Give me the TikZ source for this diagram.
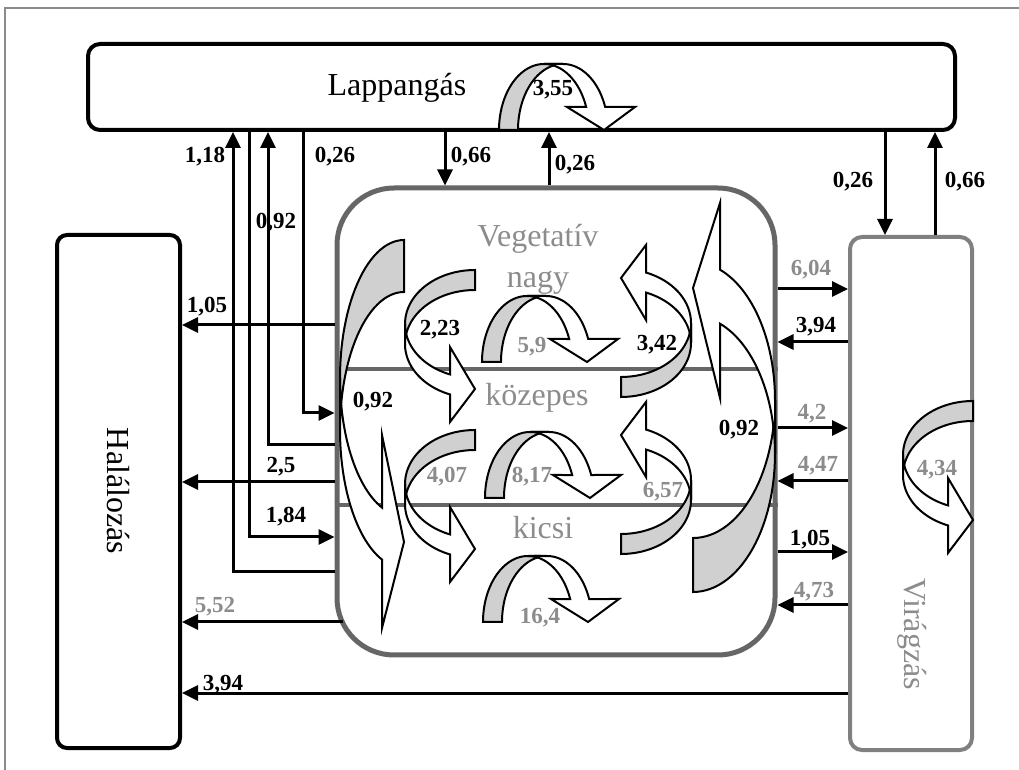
\documentclass[tikz,border=0pt]{standalone}
\usepackage{fontspec}
\setmainfont{Liberation Serif}
\usepackage{xcolor}
\definecolor{colFrame}{HTML}{8A8A8A}
\definecolor{colBox}{HTML}{666666}
\definecolor{colFlower}{HTML}{808080}
\definecolor{colText}{HTML}{8C8C8C}
\definecolor{colBand}{HTML}{D0D0D0}
\usepackage{tikz}
\usetikzlibrary{arrows.meta}
% curved band arrow: left, top, width, band, radius, head inset, head top, tip, head bottom
\newcommand{\bandarrow}[9]{%
  \pgfmathsetmacro{\bandR}{#1+#3}%
  \pgfmathsetmacro{\bandX}{\bandR-#6}%
  \pgfmathsetmacro{\bandA}{acos(-#6/#3)}%
  \pgfmathsetmacro{\bandC}{#2+#5}%
  \pgfmathsetmacro{\bandD}{#2+#4+#5}%
  \draw[back] plot[domain=270:180] ({\bandR+#3*cos(\x)},{\bandC+#5*sin(\x)})
    -- plot[domain=180:270] ({\bandR+#3*cos(\x)},{\bandD+#5*sin(\x)}) -- cycle;
  \draw[front] plot[domain=180:\bandA] ({\bandR+#3*cos(\x)},{\bandC+#5*sin(\x)})
    -- (\bandX,#2+#7) -- (\bandR,#2+#8) -- (\bandX,#2+#9)
    -- plot[domain=\bandA:180] ({\bandR+#3*cos(\x)},{\bandD+#5*sin(\x)}) -- cycle;
}
\newcommand{\midarrow}[2]{\bandarrow{#1}{#2}{70}{20}{54}{25}{77}{119}{152}}
\newcommand{\looparrow}[2]{\bandarrow{#1}{#2}{66}{19}{45}{23}{68}{105}{136}}

\begin{document}
\begin{tikzpicture}[x=0.5pt, y=-0.5pt, samples=30,
    box/.style={draw, line width=2pt, rounded corners=6pt, inner sep=0pt},
    flow/.style={-{Triangle[length=8pt,width=7.5pt]}, line width=1.5pt},
    num/.style={font=\bfseries\fontsize{11.5}{13}\selectfont, inner sep=1pt},
    gnum/.style={num, text=colText},
    stage/.style={font=\fontsize{16}{18}\selectfont, text=colText, align=center},
    back/.style={draw, fill=colBand, line width=1pt},
    front/.style={draw, fill=white, line width=1pt}]
    \useasboundingbox (0,0) rectangle (1019,770);
    \draw[colFrame, line width=0.7pt] (5,770) -- (5,8) -- (1019,8);
    % Boxes
    \node[box, minimum width=433.5pt, minimum height=43pt] (lap) at (521.5,87) {};
    \node[font=\fontsize{16}{18}\selectfont] (laptext) at (397,88) {Lappangás};
    \node[box, rounded corners=5pt, minimum width=61.5pt, minimum height=256.5pt] (hal) at (118.5,491.5) {};
    \node[rotate=-90, font=\fontsize{16}{18}\selectfont] (haltext) at (118,491) {Halálozás};
    \node[box, draw=colFlower, rounded corners=6pt, minimum width=61pt, minimum height=256.5pt] (vir) at (911,493.5) {};
    \node[stage, rotate=-90] (virtext) at (912,634) {Virágzás};
    \node[box, draw=colBox, line width=2.5pt, rounded corners=28.5pt,
          minimum width=219pt, minimum height=233.5pt] (veg) at (556,421.5) {};
    % Size classes
    \draw[colBox, line width=2pt] (veg.west |- 0,369) -- (veg.east |- 0,369);
    \draw[colBox, line width=2pt] (veg.west |- 0,505) -- (veg.east |- 0,505);
    \node[stage] (nagy) at (538,259) {Vegetatív\\[2.5pt]nagy};
    \node[stage] (kozepes) at (537,398) {közepes};
    \node[stage] (kicsi) at (543,528) {kicsi};
    % Curved arrows
    \bandarrow{340}{240}{64}{52}{138}{22}{195}{302}{388}
    \midarrow{405}{270}
    \midarrow{405}{430}
    \midarrow{903}{401}
    \begin{scope}[x={(-0.5pt,0pt)}, y={(0pt,0.5pt)}]
        \bandarrow{-775}{-592}{82}{54}{138}{27}{194}{304}{389}
        \midarrow{-691}{-397}
        \midarrow{-691}{-554}
    \end{scope}
    \begin{scope}[x={(0pt,-0.5pt)}, y={(0.5pt,0pt)}]
        \looparrow{64}{499}
        \looparrow{296}{482}
        \looparrow{432}{485}
        \looparrow{556}{483}
    \end{scope}
    % Lappangás
    \draw[flow] (veg.west |- 0,572) -| (lap.south -| 233,0);
    \draw[flow] (lap.south -| 249,0) |- (veg.west |- 0,537);
    \draw[flow] (veg.west |- 0,445) -| (lap.south -| 268,0);
    \draw[flow] (lap.south -| 303,0) |- (veg.west |- 0,413);
    \draw[flow] (lap.south -| 445,0) -- (veg.north -| 445,0);
    \draw[flow] (veg.north -| 549,0) -- (lap.south -| 549,0);
    \draw[flow] (lap.south -| 885,0) -- (vir.north -| 885,0);
    \draw[flow] (vir.north -| 935,0) -- (lap.south -| 935,0);
    % Halálozás
    \coordinate (vegSW) at (343,622);
    \draw[flow] (veg.west |- 0,325) -- (hal.east |- 0,325);
    \draw[flow] (veg.west |- 0,482) -- (hal.east |- 0,482);
    \draw[flow] (vegSW) -- (hal.east |- vegSW);
    \draw[flow] (vir.west |- 0,693) -- (hal.east |- 0,693);
    % Virágzás
    \foreach \y in {289,428,552} \draw[flow] (veg.east |- 0,\y) -- (vir.west |- 0,\y);
    \foreach \y in {342,481,605} \draw[flow] (vir.west |- 0,\y) -- (veg.east |- 0,\y);
    % Rates
    \node[num] (r355) at (553,90) {3,55};
    \node[num] (r118) at (205,157) {1,18};
    \node[num] (r026a) at (335,157) {0,26};
    \node[num] (r092a) at (276,223) {0,92};
    \node[num] (r066a) at (471,157) {0,66};
    \node[num] (r026b) at (575,165) {0,26};
    \node[num] (r026c) at (853,182) {0,26};
    \node[num] (r066b) at (965,182) {0,66};
    \node[num] (r105a) at (207,307) {1,05};
    \node[num] (r223) at (440,330) {2,23};
    \node[num] (r342) at (657,345) {3,42};
    \node[num] (r092b) at (373,402) {0,92};
    \node[num] (r092c) at (739,430) {0,92};
    \node[num] (r25) at (281,467) {2,5};
    \node[num] (r184) at (286,517) {1,84};
    \node[num] (r394a) at (816,327) {3,94};
    \node[num] (r105b) at (810,540) {1,05};
    \node[num] (r394b) at (223,685) {3,94};
    \node[gnum] (r59) at (532,347) {5,9};
    \node[gnum] (r817) at (532,477) {8,17};
    \node[gnum] (r164) at (540,618) {16,4};
    \node[gnum] (r407) at (447,477) {4,07};
    \node[gnum] (r657) at (663,492) {6,57};
    \node[gnum] (r604) at (811,270) {6,04};
    \node[gnum] (r42) at (812,414) {4,2};
    \node[gnum] (r447) at (818,466) {4,47};
    \node[gnum] (r473) at (814,592) {4,73};
    \node[gnum] (r552) at (215,607) {5,52};
    \node[gnum] (r434) at (937,470) {4,34};
\end{tikzpicture}
\end{document}
